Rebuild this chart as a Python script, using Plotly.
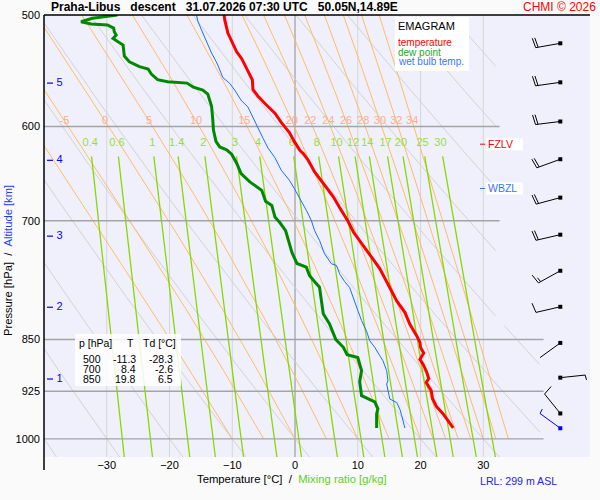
import math
import numpy as np
import plotly.graph_objects as go

# --- sounding (descent) ---
P_TEMP = [500, 504, 515, 524, 531, 537, 545, 550, 556, 565, 571, 579, 587, 596, 606, 615,
          624, 627, 634, 646, 659, 673, 685, 700, 713, 729, 743, 757, 769, 780, 798, 813,
          829, 845, 854, 861, 869, 878, 885, 897, 906, 912, 924, 936, 948, 960, 971, 982]
TEMP = [-11.3, -11.2, -10.7, -9.9, -9.3, -8.5, -7.8, -7.3, -6.8, -6.7, -5.9, -4.6, -3.2, -2.2,
        -0.9, -0.1, 0.8, 1.3, 2.1, 3.1, 4.5, 6.1, 7.1, 8.4, 9.3, 10.8, 12.2, 13.5, 14.3, 15.1,
        16.2, 17.5, 18.3, 19.4, 19.9, 20.0, 20.5, 19.9, 20.4, 21.0, 21.3, 20.9, 21.7, 21.9,
        22.5, 23.6, 24.4, 25.2]

P_DEW = [500, 502.7, 505.5, 507.4, 508.2, 510.8, 513.9, 516.7, 519.5, 522.3, 525.2, 534.7,
         539.7, 544.0, 546.2, 550.7, 555.7, 557.7, 558.9, 562.6, 565.4, 569.1, 580.4, 593.7,
         603.6, 614.7, 620.4, 623.3, 627.8, 637.1, 648.0, 656.9, 662.4, 666.0, 678.1, 682.6,
         695.8, 702.3, 711.5, 718.1, 726.7, 737.1, 743.2, 750.6, 755.1, 765.5, 773.1, 780.3,
         797.5, 815.0, 828.5, 841.8, 850.2, 860.9, 871.4, 875.5, 894.3, 910.6, 931.8, 941.1,
         951.9, 960.1, 982.3]
DEW = [-28.3, -32.3, -34.1, -32.5, -29.9, -28.9, -28.8, -28.5, -29.0, -28.2, -27.4, -27.2,
       -26.4, -24.8, -23.4, -22.9, -21.9, -20.3, -17.2, -16.2, -14.7, -13.9, -13.3, -13.1,
       -13.0, -12.6, -12.0, -10.9, -10.1, -9.3, -8.6, -7.2, -6.0, -5.3, -4.7, -3.7, -3.2,
       -2.4, -1.5, -1.2, -0.9, -0.5, -0.1, 0.3, 1.8, 2.3, 3.1, 3.9, 4.2, 4.5, 5.5, 6.1, 6.5,
       7.7, 8.3, 10.0, 10.6, 10.3, 10.6, 12.7, 13.2, 13.0, 13.0]

P_WB = [500, 504.9, 512.4, 522.6, 532.1, 538.2, 542.6, 553.9, 559.2, 565.4, 574.7, 581.3,
        591.7, 600.6, 611.6, 621.6, 631.4, 644.4, 655.1, 664.2, 675.2, 688.1, 699.6, 711.1,
        722.8, 738.8, 751.0, 753.0, 763.3, 773.1, 780.7, 795.3, 810.5, 824.0, 838.6, 851.6,
        860.9, 872.7, 879.9, 894.3, 909.2, 914.1, 936.9, 942.2, 952.4, 962.8, 982.3]
WETBULB = [-15.7, -15.5, -14.9, -14.1, -13.3, -12.7, -12.3, -11.5, -10.4, -9.6, -8.6, -7.5,
           -6.7, -5.9, -5.1, -4.3, -3.2, -2.2, -0.9, -0.1, 0.8, 1.8, 2.6, 3.1, 3.9, 4.7, 5.8,
           6.6, 7.1, 7.9, 8.7, 9.3, 10.0, 10.6, 11.4, 11.9, 12.7, 13.5, 14.0, 14.6, 14.8, 14.6,
           15.1, 16.2, 16.7, 17.0, 17.5]

# wind every 0.5 km (last one = surface)
P_WIND = [523.7, 558.2, 595.1, 633.0, 674.0, 716.1, 759.6, 805.7, 854.7, 904.7, 959.2, 982.7]
WIND_DIR = [260, 262, 263, 250, 255, 257, 241, 257, 234, 84, 321, 306]
WIND_KT = [20, 20, 20, 20, 20, 20, 15, 10, 2, 5, 10, 5]

ALT_KM = [1, 2, 3, 4, 5]
P_ALT = [906.7, 806.3, 717.8, 634.1, 558.9]

FZLV_P = 617.6
WBZL_P = 664.0

TABLE_P = [500, 700, 850]
TABLE_T = [-11.3, 8.4, 19.8]
TABLE_TD = [-28.3, -2.6, 6.5]

# --- emagram background ---
DRY_THETA = [-40, -30, -20, -10, 0, 10, 20, 30, 40, 50, 60, 70, 80, 90, 100, 110]
MOIST_THETA = [-10, -5, 0, 5, 10, 15, 20, 22, 24, 26, 28, 30, 32, 34]
MIX_RATIO = [0.4, 0.6, 1, 1.4, 2, 3, 4, 6, 8, 10, 12, 14, 17, 20, 25, 30]
P_LEVELS = [500, 600, 700, 850, 925, 1000]
T_GRID = [-30, -20, -10, 0, 10, 20, 30]

W, H = 600, 500
ML, MR, MT, MB = 44, 10, 15, 43
T_MIN, T_MAX = -40, 47
P_TOP, P_BOT = 500, 1030
FONT = "Liberation Sans, Arial, sans-serif"

PW, PH = W - ML - MR, H - MT - MB
LT, LB = math.log10(P_TOP), math.log10(P_BOT)


def xpix(t):
    return ML + (t - T_MIN) / (T_MAX - T_MIN) * PW


def ypix(p):
    return MT + (math.log10(p) - LT) / (LB - LT) * PH


def t_at(px):
    return T_MIN + (px - ML) / PW * (T_MAX - T_MIN)


def p_at(py):
    return 10 ** (LT + (py - MT) / PH * (LB - LT))


def paper_x(px):
    return (px - ML) / PW


def paper_y(py):
    return 1 - (py - MT) / PH


def es(t):
    return 6.112 * np.exp(17.67 * t / (t + 243.5))


def ws(t, p):
    e = es(t)
    return 0.622 * e / (p - e)


def t_from_w(w, p):
    e = w * p / (622.0 + w)
    a = np.log(e / 6.112)
    return 243.5 * a / (17.67 - a)


def moist_adiabat(theta, plist):
    Rd, cp, Lv, eps = 287.04, 1005.7, 2.501e6, 0.622

    def f(p, tk):
        r = ws(tk - 273.15, p)
        return (Rd * tk + Lv * r) / (p * (cp + Lv * Lv * r * eps / (Rd * tk * tk)))

    tk = theta + 273.15
    out = [theta]
    for p0, p1 in zip(plist[:-1], plist[1:]):
        h = p1 - p0
        k1 = f(p0, tk)
        k2 = f(p0 + h / 2, tk + h / 2 * k1)
        k3 = f(p0 + h / 2, tk + h / 2 * k2)
        k4 = f(p1, tk + h * k3)
        tk += h / 6 * (k1 + 2 * k2 + 2 * k3 + k4)
        out.append(tk - 273.15)
    return np.array(out)


def right_edge(p):
    return 32 if p < 830 else 39


def joined(lines):
    xs, ys = [], []
    for x, y in lines:
        xs += list(x) + [None]
        ys += list(y) + [None]
    return xs, ys


fig = go.Figure()

# isotherms
light = [([t, t], [P_TOP, P_BOT]) for t in T_GRID if t != 0]
x, y = joined(light)
fig.add_trace(go.Scatter(x=x, y=y, mode="lines", line=dict(color="#d6d6d6", width=1)))
fig.add_trace(go.Scatter(x=[0, 0], y=[P_TOP, P_BOT], mode="lines", line=dict(color="#8c8c8c", width=1)))

# dry adiabats
pd_ = np.linspace(P_TOP, P_BOT, 400)
dry = []
for th in DRY_THETA:
    t = (th + 273.15) * (pd_ / 1000.0) ** 0.2857 - 273.15
    t = [tt if tt <= right_edge(pp) else None for tt, pp in zip(t, pd_)]
    dry.append((t, pd_))
x, y = joined(dry)
fig.add_trace(go.Scatter(x=x, y=y, mode="lines", line=dict(color="#d2d2d2", width=1)))

# pseudo-adiabats
pm = np.linspace(1000, P_TOP, 251)
moist = []
moist_lab = []
for th in MOIST_THETA:
    t = moist_adiabat(th, pm)
    moist.append((t, pm))
    tl = float(np.interp(594.5, pm[::-1], t[::-1]))
    if tl > -38.5:
        moist_lab.append((tl, th))
x, y = joined(moist)
fig.add_trace(go.Scatter(x=x, y=y, mode="lines", line=dict(color="#ffbb66", width=1)))

# mixing ratio lines
pw_ = np.linspace(630, P_BOT, 100)
mix = [(t_from_w(w, pw_), pw_) for w in MIX_RATIO]
x, y = joined(mix)
fig.add_trace(go.Scatter(x=x, y=y, mode="lines", line=dict(color="#88d800", width=1.3)))

# pressure levels
lev = [([T_MIN, right_edge(p) + 0.6], [p, p]) for p in P_LEVELS if p != P_TOP]
x, y = joined(lev)
fig.add_trace(go.Scatter(x=x, y=y, mode="lines", line=dict(color="#a4a4a4", width=1.4)))

# labels of background lines
fig.add_trace(go.Scatter(
    x=[t for t, _ in moist_lab], y=[594.5] * len(moist_lab),
    text=[str(th) for _, th in moist_lab], mode="text",
    textfont=dict(family=FONT, size=11, color="#ffab8c")))
fig.add_trace(go.Scatter(
    x=[float(t_from_w(w, 616.9)) for w in MIX_RATIO], y=[616.9] * len(MIX_RATIO),
    text=[f"{w:g}" for w in MIX_RATIO], mode="text",
    textfont=dict(family=FONT, size=11, color="#99dd33")))

# sounding curves
fig.add_trace(go.Scatter(x=WETBULB, y=P_WB, mode="lines", line=dict(color="#1a6cff", width=1)))
fig.add_trace(go.Scatter(x=DEW, y=P_DEW, mode="lines", line=dict(color="#008800", width=3)))
fig.add_trace(go.Scatter(x=TEMP, y=P_TEMP, mode="lines", line=dict(color="#ff0000", width=3)))

# altitude ticks
x, y = joined([([t_at(47), t_at(53)], [p, p]) for p in P_ALT])
fig.add_trace(go.Scatter(x=x, y=y, mode="lines", line=dict(color="#0000ff", width=1.2)))
fig.add_trace(go.Scatter(x=[t_at(59.5)] * len(ALT_KM), y=P_ALT, text=[str(a) for a in ALT_KM],
                         mode="text", textfont=dict(family=FONT, size=11, color="#0000ff")))

# wind barbs
BX = 560.3
STAFF, FULL, HALF, STEP = 25, 10, 5, 2.5


def barb(p, d, v):
    x0, y0 = BX, ypix(p)
    b = math.radians(d)
    ux, uy = math.sin(b), -math.cos(b)
    bb = math.radians(d + 80)
    vx, vy = math.sin(bb), -math.cos(bb)
    segs = [([x0, x0 + STAFF * ux], [y0, y0 + STAFF * uy])]
    n = int(round(v / 5.0))
    full, half = divmod(n, 2)
    pos = STAFF
    for i in range(full):
        sx, sy = x0 + pos * ux, y0 + pos * uy
        segs.append(([sx, sx + FULL * vx], [sy, sy + FULL * vy]))
        pos -= STEP
    if half:
        sx, sy = x0 + pos * ux, y0 + pos * uy
        segs.append(([sx, sx + HALF * vx], [sy, sy + HALF * vy]))
    return [([t_at(a) for a in sx], [p_at(c) for c in sy]) for sx, sy in segs]


black = []
for p, d, v in zip(P_WIND[:-1], WIND_DIR[:-1], WIND_KT[:-1]):
    black += barb(p, d, v)
x, y = joined(black)
fig.add_trace(go.Scatter(x=x, y=y, mode="lines", line=dict(color="black", width=1)))
fig.add_trace(go.Scatter(x=[t_at(BX)] * (len(P_WIND) - 1), y=P_WIND[:-1], mode="markers",
                         marker=dict(symbol="square", size=4, color="black")))
x, y = joined(barb(P_WIND[-1], WIND_DIR[-1], WIND_KT[-1]))
fig.add_trace(go.Scatter(x=x, y=y, mode="lines", line=dict(color="#0000ff", width=1)))
fig.add_trace(go.Scatter(x=[t_at(BX)], y=[P_WIND[-1]], mode="markers",
                         marker=dict(symbol="square", size=4, color="#0000ff")))

shapes = [
    dict(type="line", xref="paper", yref="paper", x0=0, x1=0, y0=1, y1=paper_y(470),
         line=dict(color="black", width=1.5)),
    dict(type="line", xref="paper", yref="paper", x0=0, x1=1, y0=1, y1=1,
         line=dict(color="black", width=1.5)),
    dict(type="rect", xref="paper", yref="paper", x0=paper_x(395), x1=paper_x(469),
         y0=paper_y(17), y1=paper_y(71), fillcolor="white", line=dict(width=0)),
    dict(type="rect", xref="paper", yref="paper", x0=paper_x(75), x1=paper_x(181),
         y0=paper_y(334), y1=paper_y(386), fillcolor="rgba(255,255,255,0.85)", line=dict(width=0)),
]


def note(px, py, text, size=12, color="black", xanchor="left", **kw):
    fig.add_annotation(x=paper_x(px), y=paper_y(py), xref="paper", yref="paper", text=text,
                       showarrow=False, xanchor=xanchor, yanchor="middle", borderpad=0,
                       font=dict(family=FONT, size=size, color=color), **kw)


# level markers
for p, name, col in [(FZLV_P, "FZLV", "#ff0000"), (WBZL_P, "WBZL", "#3377ee")]:
    fig.add_trace(go.Scatter(x=[t_at(480), t_at(485)], y=[p, p], mode="lines",
                             line=dict(color=col, width=1)))
    shapes.append(dict(type="rect", xref="paper", yref="paper", x0=paper_x(486), x1=paper_x(523),
                       y0=paper_y(ypix(p) - 6), y1=paper_y(ypix(p) + 6),
                       fillcolor="white", line=dict(width=0)))
    note(487, ypix(p), name, 10.5, col)

# legend box
note(397, 26, "EMAGRAM", 11)
note(397, 42, "temperature", 10, "#ff0000")
note(397, 52, "dew point", 10, "#22aa22")
note(397, 62, "wet bulb temp.", 10, "#3377ff")

# value table
note(78, 343, "p [hPa]", 10.5)
note(130, 343, "T", 10.5, xanchor="center")
note(177, 343, "Td [°C]", 10.5, xanchor="right")
for i, (p, t, td) in enumerate(zip(TABLE_P, TABLE_T, TABLE_TD)):
    yy = 358.5 + i * 10
    note(102, yy, str(p), 10.5, xanchor="right")
    note(137, yy, f"{t:.1f}", 10.5, xanchor="right")
    note(174, yy, f"{td:.1f}", 10.5, xanchor="right")

# titles
note(50, 7, "<b>Praha-Libus&nbsp;&nbsp;&nbsp;descent&nbsp;&nbsp;&nbsp;31.07.2026 07:30 UTC&nbsp;&nbsp;&nbsp;50.05N,14.89E</b>", 12)
note(597, 7, "CHMI © 2026", 12, "#ff0000", xanchor="right")
note(292, 479, "Temperature [°C]&nbsp;&nbsp;/&nbsp;&nbsp;<span style='color:#66cc22'>Mixing ratio [g/kg]</span>",
     11.3, xanchor="center")
note(558, 481, "LRL: 299 m ASL", 10.6, "#2222ee", xanchor="right")
fig.add_annotation(x=paper_x(8), y=paper_y(261), xref="paper", yref="paper", textangle=-90,
                   text="Pressure [hPa]&nbsp;&nbsp;/&nbsp;&nbsp;<span style='color:#1a3cff'>Altitude [km]</span>",
                   showarrow=False, xanchor="center", yanchor="middle",
                   font=dict(family=FONT, size=11.2, color="black"))

fig.update_layout(
    width=W, height=H,
    margin=dict(l=ML, r=MR, t=MT, b=MB, pad=0),
    paper_bgcolor="#fafafa", plot_bgcolor="#f0f0fc",
    showlegend=False, shapes=shapes,
    xaxis=dict(range=[T_MIN, T_MAX], tickvals=T_GRID, showgrid=False, zeroline=False,
               ticks="", showline=False, tickfont=dict(family=FONT, size=11, color="black")),
    yaxis=dict(type="log", range=[LB, LT], tickvals=P_LEVELS, ticktext=[str(p) for p in P_LEVELS],
               showgrid=False, zeroline=False, ticks="", showline=False, ticklabelstandoff=3,
               tickfont=dict(family=FONT, size=11, color="black")),
)

fig.write_html("out.html", config={"displayModeBar": False},
               post_script="document.body.style.margin='0';document.body.style.padding='0';")
